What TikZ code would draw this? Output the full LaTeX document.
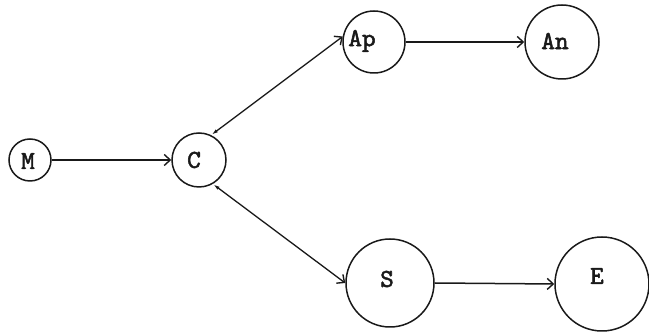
\documentclass[tikz,border=0pt]{standalone}
\usepackage{fontspec}
\setmonofont[FakeBold=2]{lmmono10-regular.otf}
\usetikzlibrary{arrows.meta}
\tikzset{
  state/.style={circle, draw=black!90, line width=1.5pt, inner sep=0pt},
  lbl/.style={font=\ttfamily\fontsize{26}{26}\selectfont, inner sep=0pt, text=black!90},
  link/.style={draw=black!90, line width=1.5pt, -{Straight Barb[length=6pt,width=11pt,line width=1.4pt]}},
  back/.style={draw=black!90, line width=1.3pt, {Latex[length=7pt,width=3.5pt]}-{Straight Barb[length=6pt,width=11pt,line width=1.4pt]}}
}
\begin{document}
\begin{tikzpicture}[x=1pt,y=-1pt]
  \useasboundingbox (0,0) rectangle (649,336);
  % states
  \node[state, minimum size=42pt] (M)  at (30,160)  {};
  \node[state, minimum size=54pt] (C)  at (199,160) {};
  \node[state, minimum size=62pt] (Ap) at (374,42)  {};
  \node[state, minimum size=74pt] (An) at (562,42)  {};
  \node[state, minimum size=88pt] (S)  at (390,283) {};
  \node[state, minimum size=94pt] (E)  at (602,284) {};
  % labels
  \node[lbl] (Mt)  at (28,161)  {M};
  \node[lbl] (Ct)  at (194,160) {C};
  \node[lbl] (Apt) at (362,41)  {Ap};
  \node[lbl] (Ant) at (555,41)  {An};
  \node[lbl] (St)  at (387,279) {S};
  \node[lbl] (Et)  at (597,276) {E};
  % connectors
  \draw[link] (M.east) -- (C.west);
  \draw[back] (C.64) -- (Ap.170);
  \draw[back] (C.-60) -- (S.west);
  \draw[link] (Ap.east) -- (An.west);
  \draw[link] (S.east) -- (E.west);
\end{tikzpicture}
\end{document}
